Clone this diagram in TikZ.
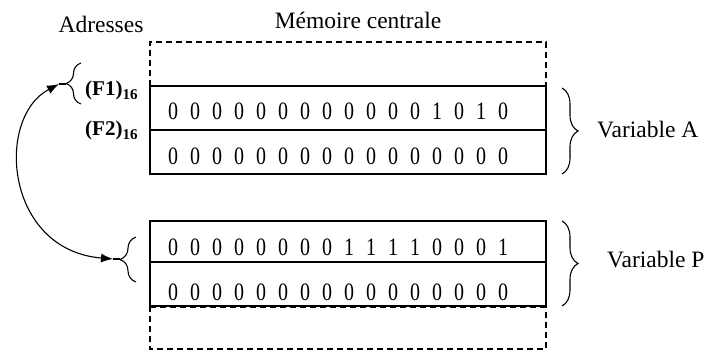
\documentclass[tikz,border=0pt]{standalone}
\usepackage{fontspec}
\setmainfont{Liberation Serif}
\usetikzlibrary{arrows.meta,decorations.pathreplacing}
\def\bitloop#1{\ifx#1\relax\else\makebox[22pt]{\scalebox{0.8}[1]{#1}}\expandafter\bitloop\fi}
\newcommand\bits[1]{\bitloop#1\relax}
\begin{document}
\begin{tikzpicture}[x=1pt,y=-1pt,
 cell/.style={draw, line width=1.3pt, minimum width=396pt, inner sep=0pt, outer sep=0pt},
 bitrow/.style={font=\fontsize{25}{25}\selectfont, inner sep=0pt, anchor=base west},
 lbl/.style={font=\fontsize{23.5}{23.5}\selectfont, inner sep=0pt},
 addr/.style={font=\fontsize{21}{21}\selectfont\bfseries, inner sep=0pt, anchor=base west},
 dashln/.style={dash pattern=on 6pt off 4pt, line width=1.2pt},
 bracel/.style={decorate, decoration={brace, amplitude=16pt}, line width=1.1pt},
 link/.style={{Latex[length=12pt,width=9pt]}-{Latex[length=12pt,width=9pt]}, line width=1.1pt}]
\useasboundingbox (0,0) rectangle (711,351);
% memory cells
\node[cell, minimum height=44pt] (A1) at (348,108) {};
\node[cell, minimum height=44pt] (A2) at (348,152) {};
\node[cell, minimum height=41pt] (P1) at (348,241.5) {};
\node[cell, minimum height=44pt] (P2) at (348,284) {};
% dashed memory outline
\coordinate (mTL) at (150,42);
\coordinate (mTR) at (546,42);
\coordinate (mBL) at (150,349);
\coordinate (mBR) at (546,349);
\coordinate (dL) at (150,307);
\coordinate (dR) at (546,307);
\draw[dashln] (A1.north west) -- (mTL) -- (mTR) -- (A1.north east);
\draw[dashln] (P2.south west) -- (mBL) -- (mBR) -- (P2.south east);
\draw[dashln] (dL) -- (dR);
% titles
\node[lbl, anchor=base] (adr) at (101,32) {Adresses};
\node[lbl, anchor=base] (mem) at (358,28) {Mémoire centrale};
\node[lbl, anchor=base west] (varA) at (597,137) {Variable A};
\node[lbl, anchor=base west] (varP) at (607,267) {Variable P};
% addresses
\node[addr] (F1) at (85,95) {(F1)\raisebox{-4pt}{\fontsize{15}{15}\selectfont 16}};
\node[addr] (F2) at (85,135) {(F2)\raisebox{-4pt}{\fontsize{15}{15}\selectfont 16}};
% bits
\node[bitrow] (bA1) at (162,119) {\bits{0000000000001010}};
\node[bitrow] (bA2) at (162,164) {\bits{0000000000000000}};
\node[bitrow] (bP1) at (162,255) {\bits{0000000011110001}};
\node[bitrow] (bP2) at (162,300) {\bits{0000000000000000}};
% braces
\draw[bracel] (562,88) -- (562,174);
\draw[bracel] (562,221) -- (562,306);
\draw[bracel, decoration={amplitude=15pt}] (81,104) -- (81,63);
\draw[bracel] (136,282) -- (136,237);
% link
\coordinate (tF1) at (66,84);
\coordinate (aF1) at (59,84);
\coordinate (tP) at (120,259);
\coordinate (aP) at (113,259);
\draw[line width=1.1pt] (aF1) -- (tF1);
\draw[line width=1.1pt] (aP) -- (tP);
\draw[link] (aF1) .. controls (-5,118) and (5,250) .. (aP);
\end{tikzpicture}
\end{document}
